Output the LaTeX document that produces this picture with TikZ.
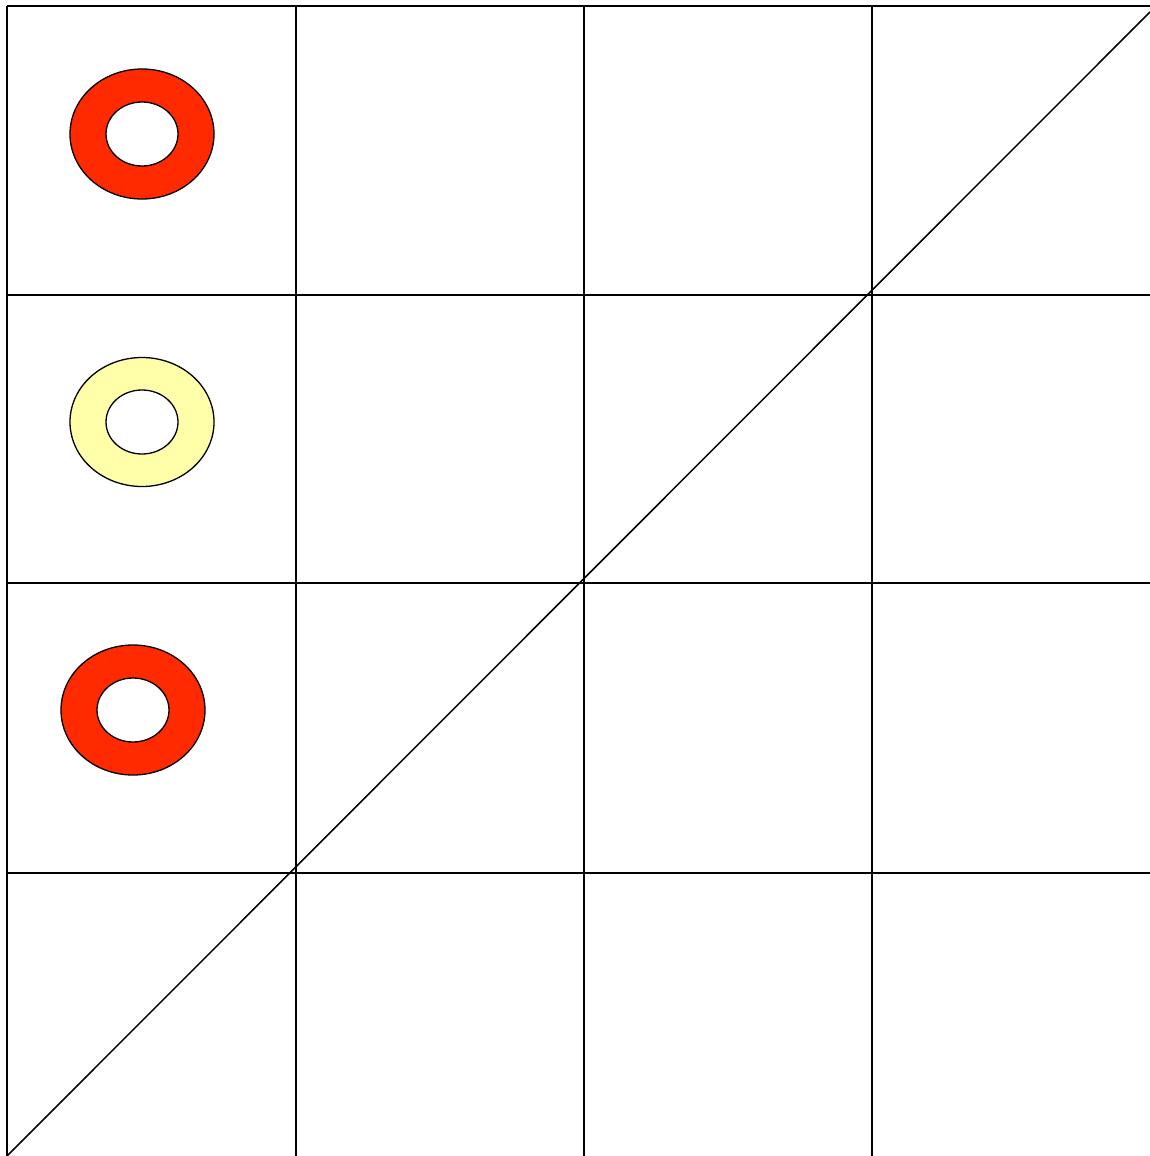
\documentclass[tikz,border=0pt]{standalone}
\usetikzlibrary{}
\definecolor{ringred}{HTML}{FF2A00}
\definecolor{ringyellow}{HTML}{FFFFAA}
\tikzset{
  gridline/.style={line width=1.5pt, black},
  ring/.style={even odd rule, draw=black, line width=1.3pt},
}
\begin{document}
\begin{tikzpicture}[x=1pt,y=-1pt]
\useasboundingbox[fill=white] (0,0) rectangle (1150,1156);
% vertical lines
\foreach \x in {7,296,584,872} \draw[gridline] (\x,6) -- (\x,1156);
% horizontal lines
\foreach \y in {6,295,583,873} \draw[gridline] (7,\y) -- (1150,\y);
% diagonal
\draw[gridline] (7,1156) -- (1150,12);
% rings
\path[ring, fill=ringred] (142,134) ellipse [x radius=72, y radius=65] (142,134) ellipse [x radius=36, y radius=32];
\path[ring, fill=ringyellow] (142,422) ellipse [x radius=72, y radius=64.5] (142,422) ellipse [x radius=36, y radius=32];
\path[ring, fill=ringred] (133,710) ellipse [x radius=72, y radius=65] (133,710) ellipse [x radius=36, y radius=32];
\end{tikzpicture}
\end{document}
